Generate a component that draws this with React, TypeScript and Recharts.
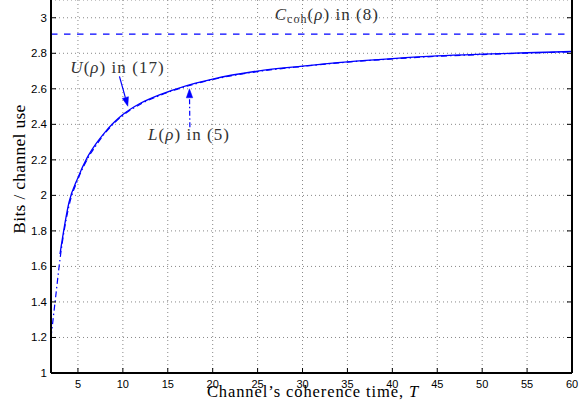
import React from 'react';
import { LineChart, Line, XAxis, YAxis, CartesianGrid, ReferenceLine, ReferenceDot } from 'recharts';

// Channel coherence time T for each series
const T_UPPER = [3, 4, 5, 6, 7, 8, 9, 10, 12, 14, 16, 18, 20, 25, 30, 35, 40, 45, 50, 55, 60];
const U_VALUES = [1.67, 1.96, 2.1, 2.21, 2.29, 2.355, 2.41, 2.455, 2.52, 2.565, 2.6, 2.63, 2.655, 2.7, 2.728, 2.752, 2.77, 2.785, 2.795, 2.803, 2.81];
const T_LOWER = [2, 2.5, 3, 4, 5, 6, 7, 8, 9, 10, 12, 14, 16, 18, 20, 25, 30, 35, 40, 45, 50, 55, 60];
const L_VALUES = [1.2, 1.42, 1.64, 1.94, 2.09, 2.2, 2.28, 2.35, 2.405, 2.45, 2.515, 2.56, 2.597, 2.627, 2.652, 2.697, 2.726, 2.75, 2.768, 2.783, 2.793, 2.801, 2.808];
const C_COH = 2.908;

const X_TICKS = [5, 10, 15, 20, 25, 30, 35, 40, 45, 50, 55, 60];
const Y_TICKS = [1, 1.2, 1.4, 1.6, 1.8, 2, 2.2, 2.4, 2.6, 2.8, 3];
const X_DOMAIN = [2, 60];
const Y_DOMAIN = [1, 3.1];

const upperData = T_UPPER.map((t, i) => ({ T: t, v: U_VALUES[i] }));
const lowerData = T_LOWER.map((t, i) => ({ T: t, v: L_VALUES[i] }));

const BLUE = '#0000ff';
const SERIF = '"Liberation Serif", "Times New Roman", serif';
const SANS = '"Liberation Sans", Arial, sans-serif';

const BottomTick = (props: any) => {
  const { x, y, payload } = props;
  return (
    <g>
      <line x1={x} y1={y} x2={x} y2={y - 5} stroke="#000" strokeWidth={1} />
      <text x={x} y={y + 15} textAnchor="middle" fontSize={11} fontFamily={SANS} fill="#000">
        {payload.value}
      </text>
    </g>
  );
};

const TopTick = (props: any) => {
  const { x, y } = props;
  return <line x1={x} y1={y} x2={x} y2={y + 5} stroke="#000" strokeWidth={1} />;
};

const LeftTick = (props: any) => {
  const { x, y, payload } = props;
  return (
    <g>
      <line x1={x} y1={y} x2={x + 5} y2={y} stroke="#000" strokeWidth={1} />
      <text x={x - 4} y={y + 4} textAnchor="end" fontSize={11.5} fontFamily={SANS} fill="#000">
        {String(payload.value)}
      </text>
    </g>
  );
};

const RightTick = (props: any) => {
  const { x, y } = props;
  return <line x1={x} y1={y} x2={x - 5} y2={y} stroke="#000" strokeWidth={1} />;
};

const arrowShape = (dash?: string) => (props: any) => {
  const { x1, y1, x2, y2 } = props;
  if ([x1, y1, x2, y2].some((v) => typeof v !== 'number' || isNaN(v))) return <g />;
  const dx = x2 - x1;
  const dy = y2 - y1;
  const len = Math.hypot(dx, dy) || 1;
  const ux = dx / len;
  const uy = dy / len;
  const hl = 9;
  const hw = 3.2;
  const bx = x2 - ux * hl;
  const by = y2 - uy * hl;
  const pts = `${x2},${y2} ${bx - uy * hw},${by + ux * hw} ${bx + uy * hw},${by - ux * hw}`;
  return (
    <g>
      <line x1={x1} y1={y1} x2={bx} y2={by} stroke={BLUE} strokeWidth={1.2} strokeDasharray={dash} />
      <polygon points={pts} fill={BLUE} stroke={BLUE} strokeWidth={0.5} />
    </g>
  );
};

const textShape = (content: React.ReactNode) => (props: any) => {
  const { cx, cy } = props;
  return (
    <text x={cx} y={cy} fontSize={17} fontFamily={SERIF} fill="#333" letterSpacing={1.05}>
      {content}
    </text>
  );
};

export default function App() {
  return (
    <div style={{ position: 'absolute', left: 0, top: 0, width: 579, height: 415, background: '#fff' }}>
      <LineChart width={579} height={415} margin={{ top: 0, right: 0, bottom: 0, left: 0 }}>
        <CartesianGrid stroke="#888" strokeDasharray="1 3" strokeWidth={1} />
        <XAxis
          dataKey="T"
          type="number"
          domain={X_DOMAIN}
          ticks={X_TICKS}
          interval={0}
          allowDataOverflow
          height={42}
          tickSize={0}
          tickMargin={0}
          tickLine={false}
          axisLine={{ stroke: '#000', strokeWidth: 2 }}
          tick={<BottomTick />}
        />
        <XAxis
          xAxisId="top"
          orientation="top"
          dataKey="T"
          type="number"
          domain={X_DOMAIN}
          ticks={X_TICKS}
          interval={0}
          allowDataOverflow
          height={0}
          tickSize={0}
          tickMargin={0}
          tickLine={false}
          axisLine={{ stroke: '#000', strokeWidth: 2 }}
          tick={<TopTick />}
        />
        <YAxis
          type="number"
          domain={Y_DOMAIN}
          ticks={Y_TICKS}
          interval={0}
          allowDataOverflow
          width={51}
          tickSize={0}
          tickMargin={0}
          tickLine={false}
          axisLine={{ stroke: '#000', strokeWidth: 2 }}
          tick={<LeftTick />}
        />
        <YAxis
          yAxisId="right"
          orientation="right"
          type="number"
          domain={Y_DOMAIN}
          ticks={Y_TICKS}
          interval={0}
          allowDataOverflow
          width={7}
          tickSize={0}
          tickMargin={0}
          tickLine={false}
          axisLine={{ stroke: '#000', strokeWidth: 2 }}
          tick={<RightTick />}
        />
        <ReferenceLine y={C_COH} stroke={BLUE} strokeWidth={1.3} strokeDasharray="6.5 6.5" />
        <Line
          data={lowerData}
          dataKey="v"
          type="monotone"
          stroke={BLUE}
          strokeWidth={1.2}
          strokeDasharray="6 3 1.5 3"
          dot={false}
          isAnimationActive={false}
        />
        <Line
          data={upperData}
          dataKey="v"
          type="monotone"
          stroke={BLUE}
          strokeWidth={1.3}
          dot={false}
          isAnimationActive={false}
        />
        <ReferenceLine
          segment={[{ x: 9.62, y: 2.67 }, { x: 10.55, y: 2.502 }]}
          shape={arrowShape()}
        />
        <ReferenceLine
          segment={[{ x: 17.46, y: 2.384 }, { x: 17.41, y: 2.6 }]}
          shape={arrowShape('5 2.5 1.5 2.5')}
        />
        <ReferenceDot
          x={4.15}
          y={2.687}
          r={0}
          shape={textShape(
            <>
              <tspan fontStyle="italic">U</tspan>(<tspan fontStyle="italic">ρ</tspan>) in (17)
            </>
          )}
        />
        <ReferenceDot
          x={12.8}
          y={2.311}
          r={0}
          shape={textShape(
            <>
              <tspan fontStyle="italic">L</tspan>(<tspan fontStyle="italic">ρ</tspan>) in (5)
            </>
          )}
        />
        <ReferenceDot
          x={26.9}
          y={2.985}
          r={0}
          shape={textShape(
            <>
              <tspan fontStyle="italic">C</tspan>
              <tspan fontSize={12} dy={3}>coh</tspan>
              <tspan dy={-3}>(</tspan>
              <tspan fontStyle="italic">ρ</tspan>) in (8)
            </>
          )}
        />
      </LineChart>
      <svg
        width={579}
        height={415}
        style={{ position: 'absolute', left: 0, top: 0, pointerEvents: 'none' }}
      >
        <text
          x={313}
          y={397}
          textAnchor="middle"
          fontSize={16.5}
          fontFamily={SERIF}
          fill="#000"
          letterSpacing={0.9}
        >
          Channel’s coherence time, <tspan fontStyle="italic">T</tspan>
        </text>
        <text
          transform="translate(25,169) rotate(-90)"
          textAnchor="middle"
          fontSize={17.5}
          fontFamily={SERIF}
          fill="#000"
          letterSpacing={0.3}
        >
          Bits / channel use
        </text>
      </svg>
    </div>
  );
}
